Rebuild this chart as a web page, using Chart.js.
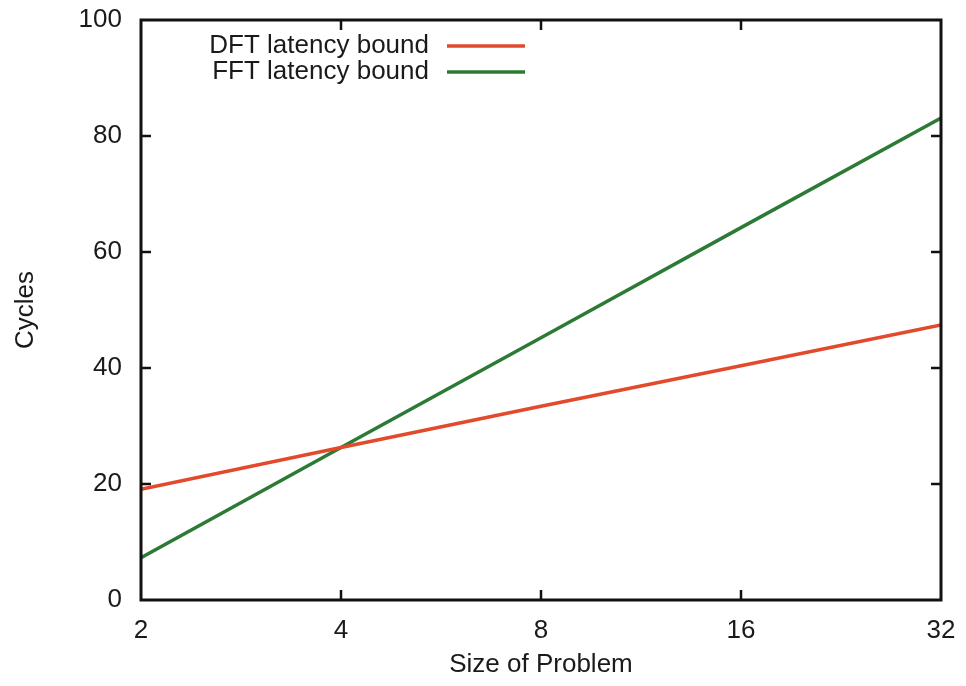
<!DOCTYPE html>
<html lang="en">
<head>
  <meta charset="UTF-8" />
  <title>DFT vs FFT latency bound</title>
  <script src="https://cdn.jsdelivr.net/npm/chart.js"></script>
  <style>
    html, body { margin: 0; padding: 0; background: #fff; }
    #wrap { width: 966px; height: 686px; }
  </style>
</head>
<body>
  <div id="wrap"><canvas id="chart"></canvas></div>

  <script>
    // problem sizes (log2 axis) and cycle counts
    const sizes = [2, 4, 8, 16, 32];
    const dftCycles = [19.1, 26.3, 33.4, 40.4, 47.4];
    const fftCycles = [7.3, 26.3, 45.2, 64.2, 83.1];
    const xTicks = [2, 4, 8, 16, 32];
    const yTicks = [0, 20, 40, 60, 80, 100];

    const RED = "#e24a2b";
    const GREEN = "#2c7a36";
    const FONT = "'Liberation Sans', Arial, sans-serif";

    // gnuplot-like frame, inward ticks and text-then-line legend
    const framePlugin = {
      id: "frame",
      afterDraw(chart) {
        const { ctx, chartArea: a, scales } = chart;
        ctx.save();
        ctx.strokeStyle = "#111";
        ctx.lineWidth = 3;
        ctx.strokeRect(a.left, a.top, a.right - a.left, a.bottom - a.top);

        ctx.lineWidth = 2.5;
        const len = 10;
        xTicks.slice(1, -1).forEach(v => {
          const px = scales.x.getPixelForValue(v);
          ctx.beginPath();
          ctx.moveTo(px, a.bottom); ctx.lineTo(px, a.bottom - len);
          ctx.moveTo(px, a.top); ctx.lineTo(px, a.top + len);
          ctx.stroke();
        });
        yTicks.slice(1, -1).forEach(v => {
          const py = scales.y.getPixelForValue(v);
          ctx.beginPath();
          ctx.moveTo(a.left, py); ctx.lineTo(a.left + len, py);
          ctx.moveTo(a.right, py); ctx.lineTo(a.right - len, py);
          ctx.stroke();
        });

        // legend
        ctx.font = "26px " + FONT;
        ctx.textAlign = "right";
        ctx.textBaseline = "middle";
        chart.data.datasets.forEach((ds, i) => {
          const y = 46 + i * 26;
          ctx.fillStyle = "#1a1a1a";
          ctx.fillText(ds.label, 429, y);
          ctx.strokeStyle = ds.borderColor;
          ctx.lineWidth = 3.5;
          ctx.beginPath();
          ctx.moveTo(447, y); ctx.lineTo(525, y);
          ctx.stroke();
        });
        ctx.restore();
      }
    };

    new Chart(document.getElementById("chart"), {
      type: "line",
      data: {
        datasets: [
          {
            label: "DFT latency bound",
            data: sizes.map((s, i) => ({ x: s, y: dftCycles[i] })),
            borderColor: RED,
            borderWidth: 3.5,
            pointRadius: 0,
            tension: 0
          },
          {
            label: "FFT latency bound",
            data: sizes.map((s, i) => ({ x: s, y: fftCycles[i] })),
            borderColor: GREEN,
            borderWidth: 3.5,
            pointRadius: 0,
            tension: 0
          }
        ]
      },
      options: {
        responsive: true,
        maintainAspectRatio: false,
        animation: false,
        layout: { padding: { top: 20, right: 25, left: 0, bottom: 0 } },
        plugins: { legend: { display: false }, tooltip: { enabled: false } },
        scales: {
          x: {
            type: "logarithmic",
            min: 2,
            max: 32,
            afterBuildTicks: s => { s.ticks = xTicks.map(v => ({ value: v })); },
            afterFit: s => { s.height = 86; s.paddingRight = 0; s.paddingLeft = 0; },
            grid: { display: false },
            border: { display: false },
            ticks: {
              color: "#1a1a1a",
              padding: 7,
              maxRotation: 0,
              autoSkip: false,
              font: { family: FONT, size: 26 },
              callback: v => String(v)
            },
            title: {
              display: true,
              text: "Size of Problem",
              color: "#1a1a1a",
              font: { family: FONT, size: 26 },
              padding: { top: 4, bottom: 6 }
            }
          },
          y: {
            min: 0,
            max: 100,
            afterBuildTicks: s => { s.ticks = yTicks.map(v => ({ value: v })); },
            afterFit: s => { s.width = 141; s.paddingTop = 0; s.paddingBottom = 0; },
            grid: { display: false },
            border: { display: false },
            ticks: {
              color: "#1a1a1a",
              padding: 11,
              font: { family: FONT, size: 26 }
            },
            title: {
              display: true,
              text: "Cycles",
              color: "#1a1a1a",
              font: { family: FONT, size: 26 },
              padding: { top: 10, bottom: 0 }
            }
          }
        }
      },
      plugins: [framePlugin]
    });
  </script>
</body>
</html>
